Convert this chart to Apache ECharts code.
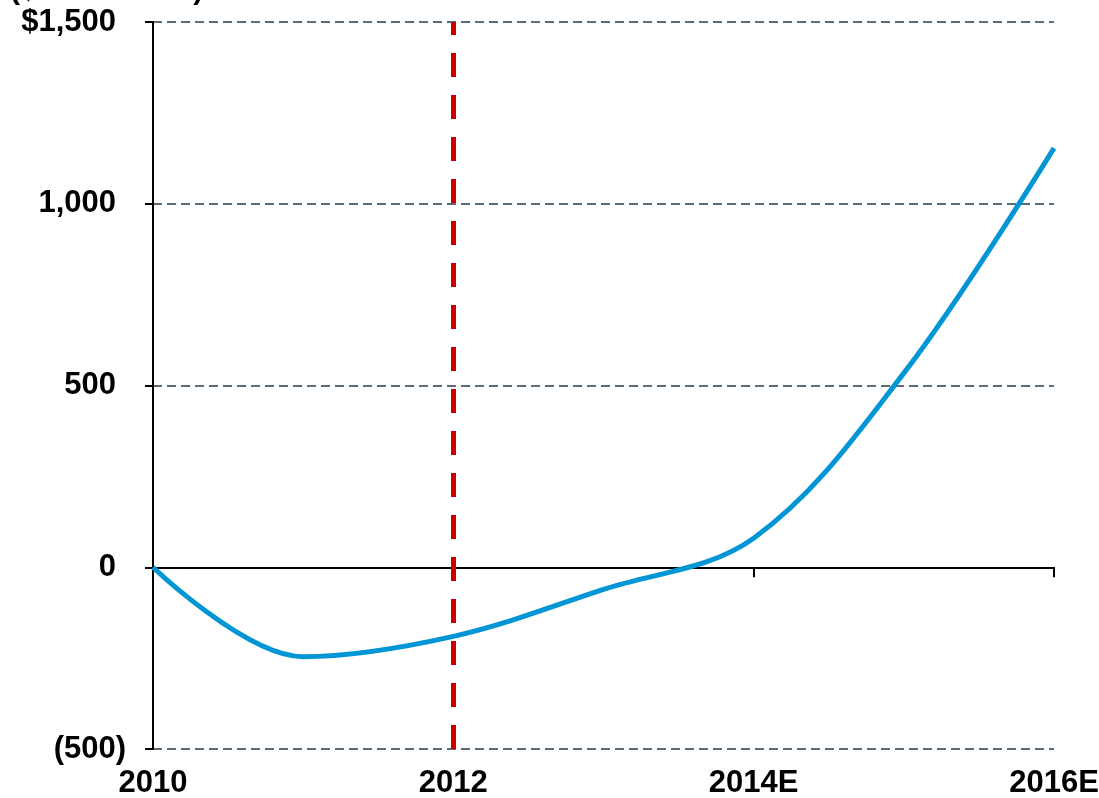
<!DOCTYPE html>
<html>
<head>
<meta charset="utf-8">
<script src="https://cdn.jsdelivr.net/npm/echarts@6/dist/echarts.min.js"></script>
<style>
  html, body { margin: 0; padding: 0; background: #fff; }
  #chart { width: 1099px; height: 798px; }
</style>
</head>
<body>
<div id="chart"></div>
<script>
  // years on the x axis (E = estimate)
  var years = ['2010', '2011', '2012', '2013', '2014E', '2015E', '2016E'];
  // value per year, $ millions
  var values = [0, -246, -190, -61, 80, 534, 1153];
  var yTicks = [-500, 0, 500, 1000, 1500];
  var markYear = '2012';

  var font = '"Liberation Sans", Arial, sans-serif';

  function fmt(v) {
    if (v === yTicks[yTicks.length - 1]) return '{p|$' + v.toLocaleString('en-US') + '}';
    if (v < 0) return '(' + Math.abs(v).toLocaleString('en-US') + ')';
    return '{p|' + v.toLocaleString('en-US') + '}';
  }

  var chart = echarts.init(document.getElementById('chart'));
  chart.setOption({
    animation: false,
    grid: { left: 153, right: 45, top: 22, bottom: 49, containLabel: false, outerBoundsMode: 'none' },
    graphic: [{
      type: 'text',
      left: 10,
      top: -24,
      style: { text: '($ in millions)', font: 'bold 30px ' + font, fill: '#000' }
    }],
    xAxis: [{
      type: 'category',
      data: years,
      boundaryGap: false,
      axisLine: { onZero: true, lineStyle: { color: '#000', width: 2 } },
      axisTick: { show: true, interval: 1, length: 10, lineStyle: { color: '#000', width: 2 } },
      axisLabel: { show: false },
      splitLine: { show: false }
    }, {
      type: 'category',
      data: years,
      position: 'bottom',
      boundaryGap: false,
      axisLine: { show: false, onZero: false },
      axisTick: { show: false },
      axisLabel: { interval: 1, margin: 19, color: '#000', fontSize: 31, fontWeight: 'bold', fontFamily: font },
      splitLine: { show: false }
    }],
    yAxis: {
      type: 'value',
      min: yTicks[0],
      max: yTicks[yTicks.length - 1],
      interval: 500,
      axisLine: { show: true, lineStyle: { color: '#000', width: 2 } },
      axisTick: { show: true, length: 8, lineStyle: { color: '#000', width: 2 } },
      axisLabel: {
        margin: 27,
        color: '#000',
        fontSize: 31,
        fontWeight: 'bold',
        fontFamily: font,
        formatter: fmt,
        rich: { p: { padding: [0, 10, 0, 0], fontSize: 31, fontWeight: 'bold', fontFamily: font, color: '#000' } }
      },
      splitLine: { show: true, lineStyle: { color: '#5b6b78', width: 2, type: [9, 5] } }
    },
    series: [{
      type: 'line',
      data: values,
      smooth: 0.35,
      symbol: 'none',
      lineStyle: { color: '#0096d6', width: 5 },
      markLine: {
        silent: true,
        symbol: 'none',
        label: { show: false },
        lineStyle: { color: '#cc0000', width: 5, type: [24, 18] },
        data: [{ xAxis: markYear }]
      }
    }]
  });
</script>
</body>
</html>
